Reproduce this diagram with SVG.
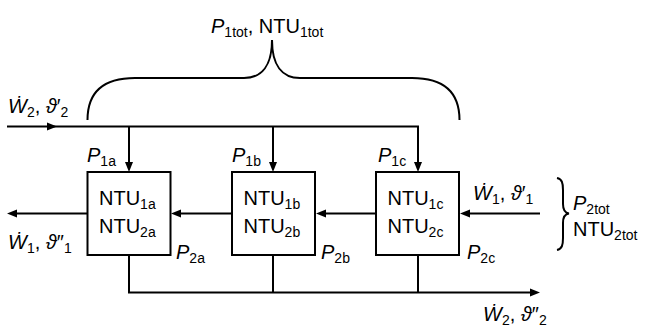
<svg xmlns="http://www.w3.org/2000/svg" width="646" height="334" viewBox="0 0 646 334">
<style>
text{font-family:"Liberation Sans",Arial,sans-serif;font-size:20px;fill:#000}
.i{font-style:italic}
.s{font-size:14px}
.ln{fill:none;stroke:#000;stroke-width:2}
.box{fill:#fff;stroke:#000;stroke-width:2}
.ah{fill:#000}
</style>
<defs>
<path id="ahd" d="M0,0 L-4,-10 L4,-10 Z"/>
</defs>
<g id="connectors">
<path class="ln" d="M7,126.5 H418 V164"/>
<path class="ln" d="M129,126.5 V164"/>
<path class="ln" d="M273,126.5 V164"/>
<polygon class="ah" points="57,126.5 47,122.5 47,130.5"/>
<use href="#ahd" x="129" y="172" class="ah"/>
<use href="#ahd" x="273" y="172" class="ah"/>
<use href="#ahd" x="418" y="172" class="ah"/>
<path class="ln" d="M540,213.5 H468"/>
<polygon class="ah" points="460,213.5 470,209.5 470,217.5"/>
<path class="ln" d="M376,213.5 H324"/>
<polygon class="ah" points="316,213.5 326,209.5 326,217.5"/>
<path class="ln" d="M232,213.5 H179"/>
<polygon class="ah" points="171,213.5 181,209.5 181,217.5"/>
<path class="ln" d="M87.5,213.5 H15"/>
<polygon class="ah" points="7,213.5 17,209.5 17,217.5"/>
<path class="ln" d="M129,255 V292.5 H531"/>
<path class="ln" d="M273,255 V292.5"/>
<path class="ln" d="M418,255 V292.5"/>
<polygon class="ah" points="540,292.5 530,288.5 530,296.5"/>
</g>
<g id="brace-top">
<path class="ln" stroke-width="1.6" d="M87.5,120 C87.5,95 100,78 135,78 L244,78 C262,78 272,65 272,40 C272,65 282,78 300,78 L412,78 C447,78 459.5,95 459.5,120"/>
<text x="211" y="33"><tspan class="i">P</tspan><tspan class="s" dy="4">1tot</tspan><tspan dy="-4">, NTU</tspan><tspan class="s" dy="4">1tot</tspan></text>
</g>
<g id="brace-right">
<path class="ln" stroke-width="1.5" d="M557,178 C562,179 563,183 563,190 L563,204 C563,210 565,213 569,213.5 C565,214 563,217 563,223 L563,238 C563,245 562,249 557,250"/>
<text x="573" y="210"><tspan class="i">P</tspan><tspan class="s" dy="4">2tot</tspan></text>
<text x="573" y="236">NTU<tspan class="s" dy="4">2tot</tspan></text>
</g>
<g id="node-a">
<rect class="box" x="87.5" y="172" width="83" height="83"/>
<text x="99" y="205">NTU<tspan class="s" dy="4">1a</tspan></text>
<text x="99" y="233">NTU<tspan class="s" dy="4">2a</tspan></text>
</g>
<g id="node-b">
<rect class="box" x="232" y="172" width="83" height="83"/>
<text x="243.5" y="205">NTU<tspan class="s" dy="4">1b</tspan></text>
<text x="243.5" y="233">NTU<tspan class="s" dy="4">2b</tspan></text>
</g>
<g id="node-c">
<rect class="box" x="376" y="172" width="83" height="83"/>
<text x="387.5" y="205">NTU<tspan class="s" dy="4">1c</tspan></text>
<text x="387.5" y="233">NTU<tspan class="s" dy="4">2c</tspan></text>
</g>
<g id="labels">
<text x="87" y="162"><tspan class="i">P</tspan><tspan class="s" dy="4">1a</tspan></text>
<text x="232" y="162"><tspan class="i">P</tspan><tspan class="s" dy="4">1b</tspan></text>
<text x="378" y="162"><tspan class="i">P</tspan><tspan class="s" dy="4">1c</tspan></text>
<text x="176" y="259"><tspan class="i">P</tspan><tspan class="s" dy="4">2a</tspan></text>
<text x="321" y="259"><tspan class="i">P</tspan><tspan class="s" dy="4">2b</tspan></text>
<text x="467" y="259"><tspan class="i">P</tspan><tspan class="s" dy="4">2c</tspan></text>
<text x="8" y="113"><tspan class="i">Ẇ</tspan><tspan class="s" dy="4">2</tspan><tspan dy="-4">, </tspan><tspan class="i">ϑ</tspan><tspan>′</tspan><tspan class="s" dy="4">2</tspan></text>
<text x="8" y="249"><tspan class="i">Ẇ</tspan><tspan class="s" dy="4">1</tspan><tspan dy="-4">, </tspan><tspan class="i">ϑ</tspan><tspan>″</tspan><tspan class="s" dy="4">1</tspan></text>
<text x="473" y="200"><tspan class="i">Ẇ</tspan><tspan class="s" dy="4">1</tspan><tspan dy="-4">, </tspan><tspan class="i">ϑ</tspan><tspan>′</tspan><tspan class="s" dy="4">1</tspan></text>
<text x="483" y="321"><tspan class="i">Ẇ</tspan><tspan class="s" dy="4">2</tspan><tspan dy="-4">, </tspan><tspan class="i">ϑ</tspan><tspan>″</tspan><tspan class="s" dy="4">2</tspan></text>
</g>
</svg>
